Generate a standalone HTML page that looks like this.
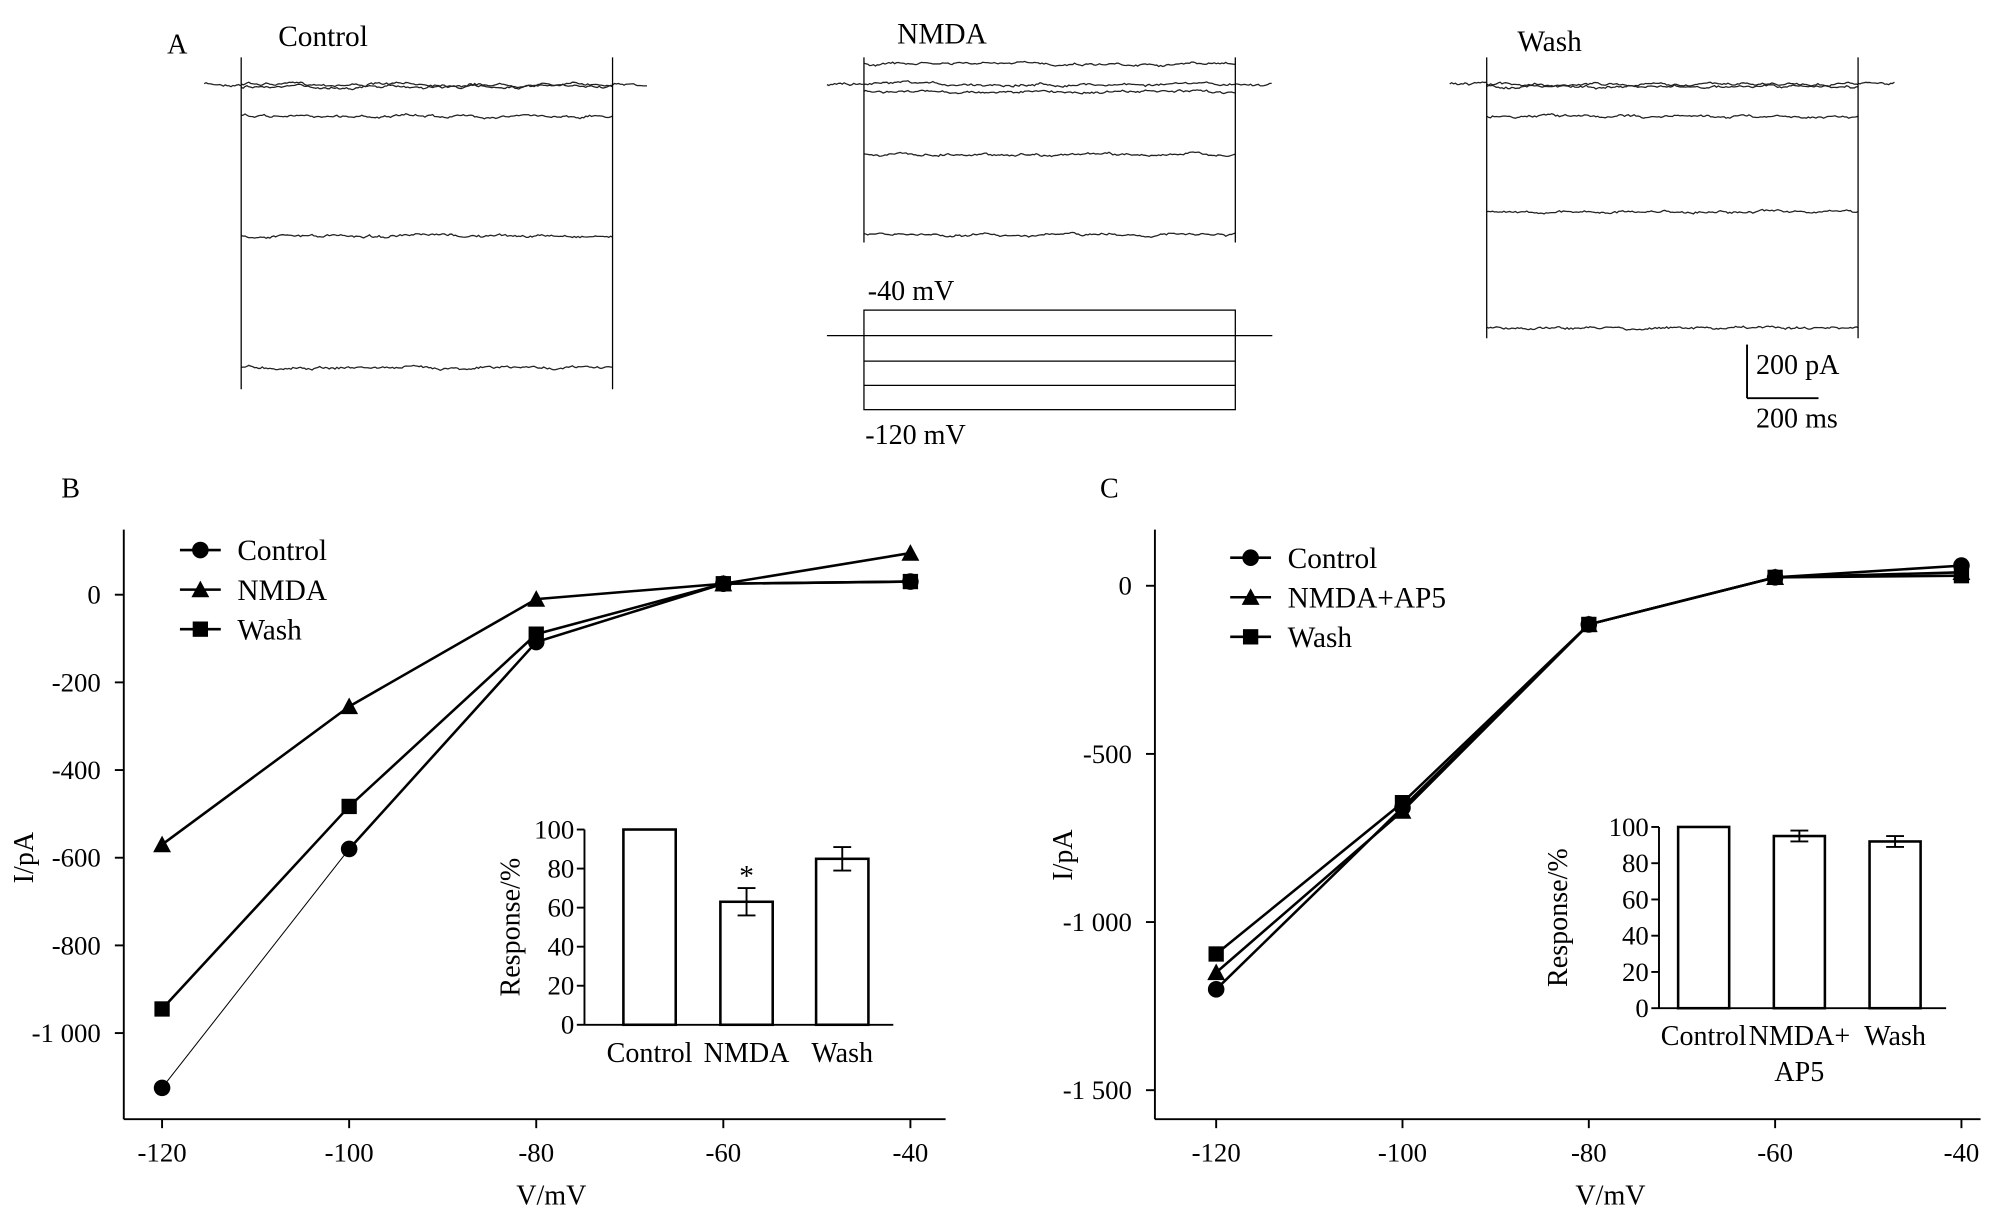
<!DOCTYPE html>
<html><head><meta charset="utf-8"><style>
html,body{margin:0;padding:0;background:#fff}
svg{display:block;font-family:"Liberation Serif",serif}
</style></head><body>
<svg id="fig" width="2001" height="1206" viewBox="0 0 1568 945" preserveAspectRatio="none" xmlns="http://www.w3.org/2000/svg"></svg>
<script>
// ---- Panel B data ----
const bVoltages = [-120, -100, -80, -60, -40];
const bControl = [-1125, -580, -108, 25, 30];
const bNMDA = [-570, -255, -10, 25, 95];
const bWash = [-945, -483, -90, 25, 30];
const bYTicks = [0, -200, -400, -600, -800, -1000];
const bYTickLabels = ["0", "-200", "-400", "-600", "-800", "-1 000"];
const bInsetCats = ["Control", "NMDA", "Wash"];
const bInsetVals = [100, 63, 85];
const bInsetErr = [0, 7, 6];
// ---- Panel C data ----
const cVoltages = [-120, -100, -80, -60, -40];
const cControl = [-1200, -660, -115, 25, 60];
const cNMDAAP5 = [-1150, -670, -115, 25, 40];
const cWash = [-1095, -645, -115, 25, 30];
const cYTicks = [0, -500, -1000, -1500];
const cYTickLabels = ["0", "-500", "-1 000", "-1 500"];
const cInsetCats = ["Control", "NMDA+|AP5", "Wash"];
const cInsetVals = [100, 95, 92];
const cInsetErr = [0, 3, 3];
const insetTicks = [0, 20, 40, 60, 80, 100];
const xTicks = [-120, -100, -80, -60, -40];

const NS = "http://www.w3.org/2000/svg";
const svg = document.getElementById('fig');
function el(tag, attrs, parent, text){
  const e = document.createElementNS(NS, tag);
  for (const k in attrs) e.setAttribute(k, attrs[k]);
  if (text !== undefined) e.textContent = text;
  (parent || svg).appendChild(e);
  return e;
}
function line(x1,y1,x2,y2,w,p){return el('line',{x1,y1,x2,y2,stroke:'#000','stroke-width':w||1.5},p);}
function txt(x,y,s,size,anchor,p,extra){const a=Object.assign({x,y,'font-size':size,'text-anchor':anchor||'start',fill:'#000'},extra||{});return el('text',a,p,s);}

// ---- Panel A traces ----
const gA = el('g',{});


txt(131,42,'A',22,'start',gA);
txt(218,36,'Control',23,'start',gA);
txt(703,34,'NMDA',23,'start',gA);
txt(1189,40,'Wash',23,'start',gA);
let seed=7;
function rnd(){seed=(seed*16807)%2147483647;return seed/2147483647-0.5;}
function trace(x0,x1,y,amp,p){
  let pts=[],d=0;
  for(let x=x0;x<=x1;x+=1.5){d=d*0.85+rnd()*amp;pts.push(x.toFixed(1)+','+(y+d+rnd()*amp*0.6).toFixed(1));}
  el('polyline',{points:pts.join(' '),fill:'none',stroke:'#222','stroke-width':1},p);
}
function recording(bx0,bx1,sx0,sx1,levels,spikeTop,spikeBot){
  trace(bx0,sx0,66,1.5,gA); trace(sx1,bx1,66,1.5,gA);
  levels.forEach(l=>trace(sx0,sx1,l,1.4,gA));
  line(sx0,spikeTop,sx0,spikeBot,1,gA);
  line(sx1,spikeTop,sx1,spikeBot,1,gA);
}
recording(160,508,189,480,[66,68,91,185,288],45,305);
recording(648,997,677,968,[50,66,72,121,184],45,190);
recording(1136,1485,1165,1456,[66,68,91,166,257],45,265);
// protocol
el('rect',{x:677,y:243,width:291,height:78,fill:'none',stroke:'#000','stroke-width':1},gA);
line(648,263,997,263,1,gA);line(677,283,968,283,1,gA);line(677,302,968,302,1,gA);
txt(680,235,'-40 mV',22,'start',gA);
txt(678,348,'-120 mV',22,'start',gA);
// scale bar
line(1369,270,1369,312,1.5,gA);line(1369,312,1425,312,1.5,gA);
txt(1376,293,'200 pA',22,'start',gA);
txt(1376,335,'200 ms',22,'start',gA);

function marker(type,x,y,p){
  if(type==='circle') return el('circle',{cx:x,cy:y,r:6.5,fill:'#000'},p);
  if(type==='tri') return el('polygon',{points:`${x},${y-7} ${x+7},${y+6} ${x-7},${y+6}`,fill:'#000'},p);
  return el('rect',{x:x-6,y:y-6,width:12,height:12,fill:'#000'},p);
}

function ivPanel(cfg){
  const g=el('g',{});
  
  
  const X=v=>cfg.x0+(v+120)*cfg.xs;
  const Y=v=>cfg.y0-v*cfg.ys;
  line(cfg.ax,cfg.yTop,cfg.ax,cfg.yBot,1.5,g);
  line(cfg.ax,cfg.yBot,cfg.xEnd,cfg.yBot,1.5,g);
  xTicks.forEach(v=>{line(X(v),cfg.yBot,X(v),cfg.yBot+7,1.5,g);txt(X(v),cfg.yBot+33,String(v),21,'middle',g);});
  cfg.yTicks.forEach((v,i)=>{line(cfg.ax-7,Y(v),cfg.ax,Y(v),1.5,g);txt(cfg.ax-18,Y(v)+7,cfg.yLabels[i],21,'end',g);});
  txt(cfg.letterX,390,cfg.letter,22,'start',g);
  txt(cfg.vx,944,'V/mV',22,'middle',g);
  txt(0,0,'I/pA',22,'middle',g,{transform:`translate(${cfg.ix},${cfg.iy}) rotate(-90)`});
  cfg.series.forEach((s,si)=>{
    const sg=el('g',{},g);
    
    
    for(let i=0;i<s.vals.length-1;i++){
      line(X(cfg.volts[i]),Y(s.vals[i]),X(cfg.volts[i+1]),Y(s.vals[i+1]),(s.thin&&i===0)?0.8:2,sg);
    }
    s.vals.forEach((v,i)=>{const m=marker(s.m,X(cfg.volts[i]),Y(v),sg);
      
      });
    const ly=cfg.legY+si*cfg.legDy;
    const lg=el('g',{},g);
    
    
    line(cfg.legX-16,ly,cfg.legX+16,ly,2,lg);
    marker(s.m,cfg.legX,ly,lg);
    txt(cfg.legX+29,ly+8,s.label,23,'start',lg);
  });
  const ins=cfg.inset;
  const ig=el('g',{},g);
  
  
  const IY=v=>ins.y0-v*ins.ys;
  line(ins.ax,IY(100),ins.ax,ins.y0,1.5,ig);
  line(ins.ax,ins.y0,ins.xEnd,ins.y0,1.5,ig);
  insetTicks.forEach(v=>{line(ins.ax-6,IY(v),ins.ax,IY(v),1.5,ig);txt(ins.ax-8,IY(v)+7,String(v),21,'end',ig);});
  txt(0,0,'Response/%',22,'middle',ig,{transform:`translate(${ins.rx},${(IY(100)+ins.y0)/2}) rotate(-90)`});
  ins.vals.forEach((v,i)=>{
    const cx=ins.cx[i],w=ins.w;
    const b=el('rect',{x:cx-w/2,y:IY(v),width:w,height:ins.y0-IY(v),fill:'#fff',stroke:'#000','stroke-width':2},ig);
    
    
    if(ins.err[i]>0){
      line(cx,IY(v+ins.err[i]),cx,IY(v-ins.err[i]),1.5,ig);
      line(cx-7,IY(v+ins.err[i]),cx+7,IY(v+ins.err[i]),1.5,ig);
      line(cx-7,IY(v-ins.err[i]),cx+7,IY(v-ins.err[i]),1.5,ig);
    }
    const parts=ins.cats[i].split('|');
    parts.forEach((p,j)=>txt(cx,ins.y0+29+j*28,p,22,'middle',ig));
    if(ins.star&&ins.star[i]) txt(cx,IY(v+ins.err[i])-2,'*',23,'middle',ig);
  });
}
ivPanel({name:'panel-b-iv-curve',letter:'B',letterX:48,x0:127,xs:7.33,y0:466,ys:0.3435,ax:97,yTop:415,yBot:877,xEnd:741,
  yTicks:bYTicks,yLabels:bYTickLabels,vx:432,ix:26,iy:672,volts:bVoltages,legX:157,legY:431,legDy:31,
  series:[{key:'control',label:'Control',vals:bControl,m:'circle',thin:true},{key:'nmda',label:'NMDA',vals:bNMDA,m:'tri'},{key:'wash',label:'Wash',vals:bWash,m:'sq'}],
  inset:{ax:458,xEnd:700,y0:803,ys:1.53,rx:407,cats:bInsetCats,vals:bInsetVals,err:bInsetErr,cx:[509,585,660],w:41,star:[0,1,0]}});
ivPanel({name:'panel-c-iv-curve',letter:'C',letterX:862,x0:953,xs:7.3,y0:459,ys:0.2635,ax:905,yTop:415,yBot:877,xEnd:1552,
  yTicks:cYTicks,yLabels:cYTickLabels,vx:1262,ix:840,iy:670,volts:cVoltages,legX:980,legY:437,legDy:31,
  series:[{key:'control',label:'Control',vals:cControl,m:'circle'},{key:'nmda-ap5',label:'NMDA+AP5',vals:cNMDAAP5,m:'tri'},{key:'wash',label:'Wash',vals:cWash,m:'sq'}],
  inset:{ax:1300,xEnd:1525,y0:790,ys:1.42,rx:1228,cats:cInsetCats,vals:cInsetVals,err:cInsetErr,cx:[1335,1410,1485],w:40}});
</script>
</body></html>
